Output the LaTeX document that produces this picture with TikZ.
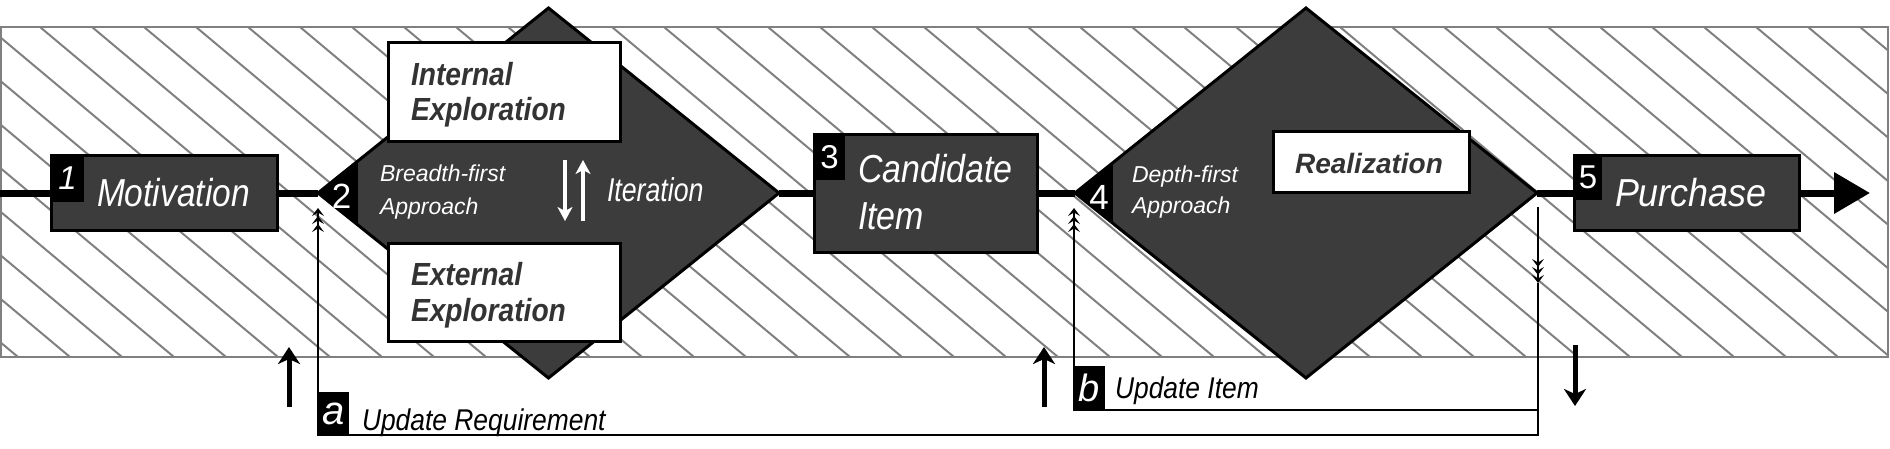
\documentclass[tikz,border=0pt]{standalone}
\usepackage{fontspec}
\setmainfont{Liberation Sans}[Ligatures=NoCommon]
\usetikzlibrary{shapes.geometric,arrows.meta,calc}
\definecolor{dk}{RGB}{60,60,60}
\definecolor{hg}{RGB}{128,128,128}
\definecolor{tdk}{RGB}{51,51,51}
\newcommand{\fs}[1]{\fontsize{#1pt}{#1pt}\selectfont}
\newcommand{\hs}[2]{\scalebox{#1}[1]{#2}}
\begin{document}
\begin{tikzpicture}[x=1pt,y=-1pt,
  every node/.style={inner sep=0pt,outer sep=0pt},
  dbox/.style={rectangle,draw=black,line width=3pt,fill=dk},
  wbox/.style={rectangle,draw=black,line width=3pt,fill=white},
  tabbox/.style={rectangle,fill=black,text=white},
  dia/.style={diamond,draw=black,line width=3pt,fill=dk},
  wt/.style={anchor=base west,text=white},
  dt/.style={anchor=base west,text=tdk},
  bt/.style={anchor=base west,text=black},
  mainln/.style={line width=7pt},
  fb/.style={line width=2.3pt},
  tri/.style={-{Stealth[length=8pt,width=12pt,inset=3.5pt,sep=0pt] Stealth[length=8pt,width=12pt,inset=3.5pt,sep=0pt] Stealth[length=8pt,width=12pt,inset=3.5pt,sep=0pt]}},
  bigarr/.style={line width=5pt,-{Stealth[length=17pt,width=22pt,inset=5pt]}},
  warr/.style={draw=white,line width=4pt,-{Stealth[length=14pt,width=15pt,inset=4pt]}},
  hatch/.style={draw=hg,line width=2pt}
]
\useasboundingbox (0,0) rectangle (1890,448);

% hatched band
\begin{scope}
  \clip (1,27) rectangle (1888,357);
  \foreach \k in {-9,...,36} \draw[hatch] ({40+52*\k},27) -- ({434+52*\k},357);
\end{scope}
\draw[draw=hg,line width=2pt] (1,27) rectangle (1888,357);

% diamonds
\node[dia,minimum width=461pt,minimum height=370pt] (d2) at (548.5,193) {};
\begin{scope}
  \clip (d2.west) -- (d2.north) -- (d2.east) -- (d2.south) -- cycle;
  \fill[black] ($(d2.west)+(-5,-200)$) rectangle ($(d2.west)+(40,200)$);
\end{scope}
\node[dia,minimum width=462pt,minimum height=370pt] (d4) at (1306,193) {};
\begin{scope}
  \clip (d4.west) -- (d4.north) -- (d4.east) -- (d4.south) -- cycle;
  \fill[black] ($(d4.west)+(-5,-200)$) rectangle ($(d4.west)+(38,200)$);
\end{scope}

% white boxes
\node[wbox,minimum width=232pt,minimum height=99pt] (ie) at (504,91.5) {};
\node[wbox,minimum width=232pt,minimum height=98pt] (ee) at (504,292) {};
\node[wbox,minimum width=196pt,minimum height=61pt] (re) at (1371,161.5) {};

% dark boxes
\node[dbox,minimum width=226pt,minimum height=75pt] (mot) at (164,193) {};
\node[dbox,minimum width=223pt,minimum height=118pt] (cand) at (925.5,193) {};
\node[dbox,minimum width=225pt,minimum height=75pt] (pur) at (1686.5,193) {};

% number tabs
\node[tabbox,minimum width=33pt,minimum height=46pt,anchor=north west,font=\fs{33}\itshape] (t1) at (mot.north west) {1};
\node[tabbox,minimum width=31pt,minimum height=46pt,anchor=north west,font=\fs{33}] (t3) at (cand.north west) {3};
\node[tabbox,minimum width=28pt,minimum height=44pt,anchor=north west,font=\fs{33}] (t5) at (pur.north west) {5};
\node[text=white,font=\fs{35}] (n2) at (341.5,196) {2};
\node[text=white,font=\fs{35}] (n4) at (1099,197) {4};

% texts
\node[wt] (motT) at (97,206.5) {\hs{0.86}{\fs{39}\itshape Motivation}};
\node[wt] (candT1) at (858,182) {\hs{0.87}{\fs{39}\itshape Candidate}};
\node[wt] (candT2) at (858,229) {\hs{0.87}{\fs{39}\itshape Item}};
\node[wt] (purT) at (1615,206.5) {\hs{0.92}{\fs{39}\itshape Purchase}};
\node[wt] (bf1) at (380,181) {\fs{23}\itshape Breadth-first};
\node[wt] (bf2) at (380,214) {\fs{23}\itshape Approach};
\node[wt] (itT) at (607,201) {\hs{0.81}{\fs{33}\itshape Iteration}};
\node[wt] (df1) at (1132,182) {\fs{23}\itshape Depth-first};
\node[wt] (df2) at (1132,213) {\fs{23}\itshape Approach};
\node[dt] (ie1) at (411,85) {\hs{0.88}{\fs{32}\bfseries\itshape Internal}};
\node[dt] (ie2) at (411,120) {\hs{0.88}{\fs{32}\bfseries\itshape Exploration}};
\node[dt] (ee1) at (411,285) {\hs{0.88}{\fs{32}\bfseries\itshape External}};
\node[dt] (ee2) at (411,321) {\hs{0.88}{\fs{32}\bfseries\itshape Exploration}};
\node[anchor=base,text=tdk] (reT) at (1369,173) {\fs{28}\bfseries\itshape Realization};

% iteration arrows
\coordinate (w1s) at (565,160); \coordinate (w1e) at (565,221);
\coordinate (w2s) at (583,221); \coordinate (w2e) at (583,160);
\draw[warr] (w1s) -- (w1e);
\draw[warr] (w2s) -- (w2e);

% main flow
\coordinate (instart) at (0,193);
\coordinate (outend) at (1870,193);
\draw[mainln] (instart) -- (mot.west);
\draw[mainln] (mot.east) -- (d2.west);
\draw[mainln] (d2.east) -- (cand.west);
\draw[mainln] (cand.east) -- (d4.west);
\draw[mainln] (d4.east) -- (pur.west);
\draw[mainln,-{Triangle[length=36pt,width=40pt]}] (pur.east) -- (outend);

% feedback loops
\coordinate (r1) at ($(d4.east)+(1,14)$);
\coordinate (r2) at (1538,283);
\coordinate (r3) at (1538,410);
\coordinate (r4) at (1538,435);
\coordinate (a1) at (318,435);
\coordinate (a2) at ($(d2.west)+(0,15)$);
\coordinate (b1) at (1074,410);
\coordinate (b2) at ($(d4.west)+(-1,15)$);
\draw[fb,tri] (r1) -- (r2);
\draw[fb,tri] (r2) -- (r4) -- (a1) -- (a2);
\draw[fb,tri] (r3) -- (b1) -- (b2);

% labels
\node[tabbox,minimum width=31pt,minimum height=43pt,anchor=south west,font=\fs{40}\itshape] (ta) at (a1) {a};
\node[bt] (laT) at (362,430) {\hs{0.88}{\fs{30}\itshape Update Requirement}};
\node[tabbox,minimum width=31pt,minimum height=44pt,anchor=south west,font=\fs{38}\itshape] (tb) at (b1) {b};
\node[bt] (lbT) at (1115,398) {\hs{0.88}{\fs{30}\itshape Update Item}};

% free arrows
\coordinate (u1s) at (289,407); \coordinate (u1e) at (289,347);
\coordinate (u2s) at (1044,407); \coordinate (u2e) at (1044,347);
\coordinate (dns) at (1575,345); \coordinate (dne) at (1575,406);
\draw[bigarr] (u1s) -- (u1e);
\draw[bigarr] (u2s) -- (u2e);
\draw[bigarr] (dns) -- (dne);
\end{tikzpicture}
\end{document}
